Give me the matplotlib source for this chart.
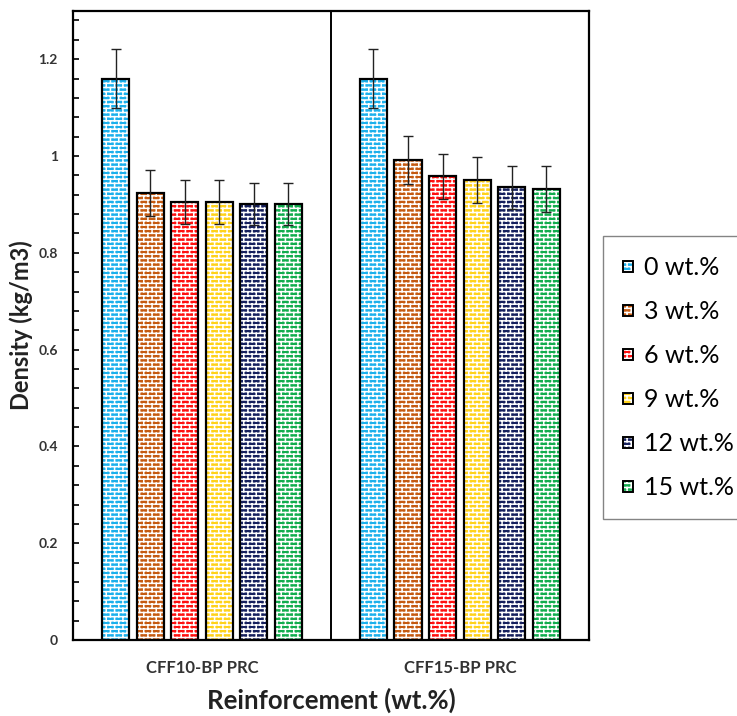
import numpy as np
import matplotlib
matplotlib.use("Agg")
import matplotlib.pyplot as plt
import matplotlib.hatch as mhatch
import matplotlib.patches as mpatches
from matplotlib.path import Path
from matplotlib.legend_handler import HandlerTuple
from matplotlib.ticker import MultipleLocator, FuncFormatter

# Data
groups = ["CFF10-BP PRC", "CFF15-BP PRC"]
labels = ["0 wt.%", "3 wt.%", "6 wt.%", "9 wt.%", "12 wt.%", "15 wt.%"]
colors = ["#1CB0EC", "#C55A11", "#FF1010", "#FFD21A", "#16205E", "#12AD4E"]
density_cff10 = [1.16, 0.923, 0.905, 0.905, 0.901, 0.901]
density_cff15 = [1.16, 0.992, 0.958, 0.950, 0.935, 0.932]
err_cff10 = [0.060, 0.048, 0.045, 0.045, 0.044, 0.044]
err_cff15 = [0.060, 0.050, 0.047, 0.048, 0.045, 0.047]


# Brick hatch: takes the place of the '*' (stars) hatch
class BrickHatch(mhatch.HatchPatternBase):
    def __init__(self, hatch, density):
        self.n = int(hatch.count('*') * density)
        rows = 2 * self.n
        self.num_vertices = (2 * (rows + 1) + 2 * rows * self.n) if self.n else 0

    def set_vertices_and_codes(self, vertices, codes):
        n = self.n
        rows = 2 * n
        segs = []
        for k in range(rows + 1):
            segs.append(((0, k / rows), (1, k / rows)))
        for k in range(rows):
            shift = 0.25 + 0.5 * (k % 2)
            for j in range(n):
                xv = (j + shift) / n
                segs.append(((xv, k / rows), (xv, (k + 1) / rows)))
        vertices[:] = np.array(segs, dtype=float).reshape(-1, 2)
        codes[0::2] = Path.MOVETO
        codes[1::2] = Path.LINETO


mhatch._hatch_types = [t for t in mhatch._hatch_types if t is not mhatch.Stars] + [BrickHatch]

plt.rcParams['font.family'] = ['Lato', 'DejaVu Sans']
plt.rcParams['hatch.linewidth'] = 1.1

fig = plt.figure(figsize=(7.37, 7.16), dpi=100)
ax = fig.add_axes([0.099, 0.106, 0.700, 0.879])

x = np.arange(len(groups))
width = 0.105
step = 0.134
values = np.array([density_cff10, density_cff15])
errors = np.array([err_cff10, err_cff15])

handles = []
for i, (lab, col) in enumerate(zip(labels, colors)):
    pos = x + (i - 2.5) * step
    ax.bar(pos, values[:, i], width, color=col, edgecolor='white', hatch='**', linewidth=0, zorder=2)
    ax.bar(pos, values[:, i], width, fill=False, edgecolor='black', linewidth=1.6, zorder=3,
           yerr=errors[:, i], error_kw=dict(ecolor='#222222', elinewidth=1.0, capsize=3.5, capthick=1.0))
    handles.append((mpatches.Patch(facecolor=col, edgecolor='white', hatch='**', linewidth=0),
                    mpatches.Patch(fill=False, edgecolor='black', linewidth=1.4)))

ax.axvline(0.5, color='black', linewidth=1.4, zorder=4)

ax.set_xlim(-0.5, 1.5)
ax.set_ylim(0, 1.3)
ax.set_xticks(x)
ax.set_xticklabels(groups, fontsize=12, fontweight='bold', color='#333333')
ax.tick_params(axis='x', length=0, pad=14)

ax.yaxis.set_major_locator(MultipleLocator(0.2))
ax.yaxis.set_minor_locator(MultipleLocator(0.04))
ax.yaxis.set_major_formatter(FuncFormatter(lambda v, p: f"{v:g}"))
ax.tick_params(axis='y', which='both', direction='in', length=4, width=1.2, pad=11)
for t in ax.get_yticklabels():
    t.set_fontweight('bold')
    t.set_fontsize(10)
    t.set_color('#333333')

for s in ax.spines.values():
    s.set_linewidth(1.6)
    s.set_color('black')

ax.set_ylabel("Density (kg/m3)", fontsize=17, fontweight='bold', color='#222222', labelpad=4)
ax.set_xlabel("Reinforcement (wt.%)", fontsize=18.5, fontweight='bold', color='#222222', labelpad=9)

leg = fig.legend(handles, labels, loc='upper left', bbox_to_anchor=(0.818, 0.670),
                 handler_map={tuple: HandlerTuple(ndivide=1, pad=0)},
                 fontsize=18, frameon=True, fancybox=False, borderaxespad=0,
                 handlelength=0.4, handleheight=0.32, handletextpad=0.45,
                 labelspacing=0.84, borderpad=0.8)
leg.get_frame().set_edgecolor('#666666')
leg.get_frame().set_linewidth(1.0)

fig.savefig("out.png", dpi=100)
